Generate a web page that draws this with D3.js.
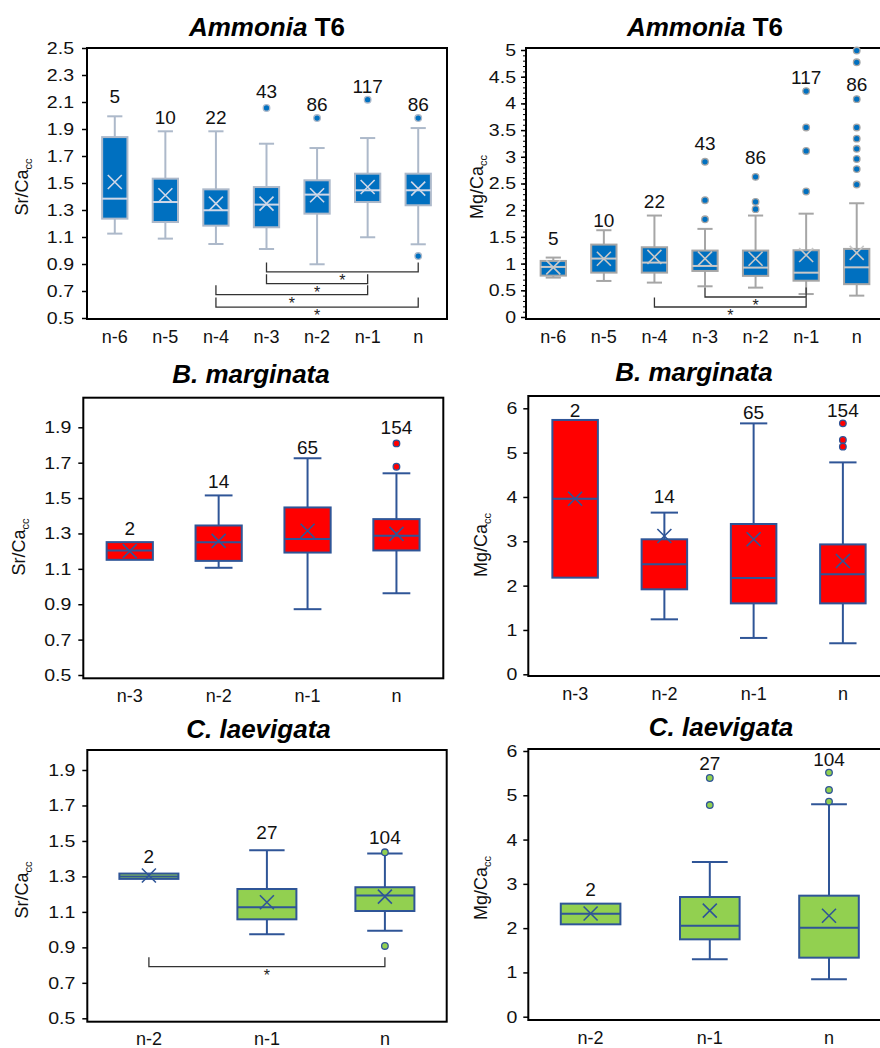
<!DOCTYPE html>
<html>
<head>
<meta charset="utf-8">
<script src="https://cdn.jsdelivr.net/npm/d3@7"></script>
<style>
body { margin: 0; background: #fff; }
text { font-family: "Liberation Sans", Arial, sans-serif; }
</style>
</head>
<body>
<script>
// categories (chamber positions)
var ammCats = ["n-6", "n-5", "n-4", "n-3", "n-2", "n-1", "n"];
var margCats = ["n-3", "n-2", "n-1", "n"];
var laevCats = ["n-2", "n-1", "n"];

// sample counts
var ammN = [5, 10, 22, 43, 86, 117, 86];
var margN = [2, 14, 65, 154];
var laevN = [2, 27, 104];

// box stats per category: [whisker low, q1, median, q3, whisker high, mean]
var ammSr = [
  [1.125, 1.236, 1.384, 1.84, 1.994, 1.507],
  [1.088, 1.211, 1.359, 1.532, 1.883, 1.409],
  [1.048, 1.184, 1.298, 1.453, 1.883, 1.347],
  [1.011, 1.172, 1.34, 1.47, 1.791, 1.347],
  [0.898, 1.273, 1.414, 1.52, 1.759, 1.409],
  [1.098, 1.359, 1.446, 1.569, 1.833, 1.47],
  [1.046, 1.335, 1.446, 1.569, 1.907, 1.458]
];
var ammSrOut = [[], [], [], [2.056], [1.981], [2.117], [1.981, 0.959]];

var ammMg = [
  [0.738, 0.775, 0.9375, 1.05, 1.113, 0.93],
  [0.675, 0.831, 1.094, 1.356, 1.625, 1.09],
  [0.644, 0.831, 1.019, 1.306, 1.9, 1.125],
  [0.575, 0.8625, 0.956, 1.244, 1.65, 1.094],
  [0.55, 0.77, 0.925, 1.244, 1.9, 1.09],
  [0.43, 0.68, 0.83, 1.25, 1.935, 1.16],
  [0.4, 0.615, 0.93, 1.275, 2.13, 1.2]
];
var ammMgOut = [[], [], [], [2.906, 2.1875, 1.83], [2.625, 2.156, 2.02],
  [4.23, 3.55, 3.11, 2.35], [4.99, 4.77, 4.08, 3.55, 3.34, 3.15, 2.96, 2.77, 2.48]];

var margSr = [
  [1.151, 1.151, 1.204, 1.251, 1.251, 1.2],
  [1.106, 1.145, 1.251, 1.345, 1.515, 1.258],
  [0.872, 1.192, 1.268, 1.447, 1.725, 1.315],
  [0.962, 1.204, 1.287, 1.381, 1.64, 1.298]
];
var margSrOut = [[], [], [], [1.809, 1.677]];

var margMg = [
  [2.18, 2.18, 3.962, 5.737, 5.737, 3.96],
  [1.24, 1.917, 2.48, 3.045, 3.647, 3.12],
  [0.82, 1.6, 2.17, 3.39, 5.66, 3.045],
  [0.7, 1.6, 2.256, 2.93, 4.78, 2.556]
];
var margMgOut = [[], [], [], [5.66, 5.286, 5.135]];

var laevSr = [
  [1.286, 1.286, 1.299, 1.316, 1.316, 1.305],
  [0.974, 1.058, 1.126, 1.229, 1.447, 1.154],
  [0.994, 1.105, 1.192, 1.239, 1.429, 1.186]
];
var laevSrOut = [[], [], [1.436, 0.908]];

var laevMg = [
  [2.086, 2.086, 2.327, 2.553, 2.553, 2.33],
  [1.295, 1.747, 2.056, 2.703, 3.494, 2.395],
  [0.843, 1.333, 2.01, 2.733, 4.797, 2.28]
];
var laevMgOut = [[], [5.39, 4.78], [5.512, 5.12, 4.857]];

// where the count labels sit (data units, baseline)
var ammSrNAt = [2.09, 1.937, 1.937, 2.13, 2.036, 2.164, 2.036];
var ammMgNAt = [1.356, 1.694, 2.044, 3.119, 2.856, 4.356, 4.225];
var margSrNAt = [1.29, 1.558, 1.749, 1.862];
var margMgNAt = [5.8, 3.865, 5.767, 5.8];
var laevSrNAt = [1.378, 1.509, 1.481];
var laevMgNAt = [2.718, 5.58, 5.655];

// significance brackets: [from, to, level]
var ammSrSig = [["n-3", "n", 0.841], ["n-3", "n-1", 0.754], ["n-4", "n-1", 0.673], ["n-4", "n", 0.581]];
var ammMgSig = [["n-3", "n-1", 0.375], ["n-4", "n-1", 0.1875]];
var laevSrSig = [["n-2", "n", 0.791]];

// tick values
var srTicksAmm = [0.5, 0.7, 0.9, 1.1, 1.3, 1.5, 1.7, 1.9, 2.1, 2.3, 2.5];
var mgTicksAmm = [0, 0.5, 1, 1.5, 2, 2.5, 3, 3.5, 4, 4.5, 5];
var srTicks = [0.5, 0.7, 0.9, 1.1, 1.3, 1.5, 1.7, 1.9];
var mgTicks = [0, 1, 2, 3, 4, 5, 6];

var svg = d3.select("body")
  .append("svg")
  .attr("width", 880)
  .attr("height", 1048);

var blue = "#0070C0", red = "#FF0000", green = "#92D050", navy = "#2F5597";

var panels = [
  { title: [["Ammonia", true], [" T6", false]], tx: 267, ty: 36, ylab: "Sr", ylx: 22, yly: 187,
    frame: {l: 87, r: 447, t: 48, b: 319}, xr: [89.5, 443.5], yd: [0.5, 2.5], yr: [318, 48],
    cats: ammCats, stats: ammSr, out: ammSrOut, n: ammN, nAt: ammSrNAt, sig: ammSrSig,
    ticks: srTicksAmm, fmt: d3.format(".1f"), pad: 8, minor: null,
    fill: blue, line: "#ADB9CA", inner: "#D0D8E8", dotStroke: "#ADB9CA", bw: 0.5 },
  { title: [["Ammonia", true], [" T6", false]], tx: 705, ty: 36, ylab: "Mg", ylx: 477, yly: 187,
    frame: {l: 526, r: 884, t: 48, b: 319}, xr: [528, 882], yd: [0, 5], yr: [317, 50],
    cats: ammCats, stats: ammMg, out: ammMgOut, n: ammN, nAt: ammMgNAt, sig: ammMgSig,
    ticks: mgTicksAmm, fmt: d3.format("~g"), pad: 5, minor: d3.range(0, 5.01, 0.1),
    fill: blue, line: "#A6A6A6", inner: "#C8C8C8", dotStroke: "#A6A6A6", bw: 0.5 },
  { title: [["B. marginata", true]], tx: 251, ty: 383, ylab: "Sr", ylx: 19, yly: 547,
    frame: {l: 83.3, r: 443.3, t: 397.7, b: 678.3}, xr: [85.3, 440.9], yd: [0.5, 1.9], yr: [675, 427.3],
    cats: margCats, stats: margSr, out: margSrOut, n: margN, nAt: margSrNAt, sig: [],
    ticks: srTicks, fmt: d3.format(".1f"), pad: 7, minor: null,
    fill: red, line: navy, inner: navy, dotStroke: navy, bw: 0.52 },
  { title: [["B. marginata", true]], tx: 694, ty: 381, ylab: "Mg", ylx: 481, yly: 545,
    frame: {l: 528.3, r: 884, t: 396, b: 676}, xr: [530.5, 887.5], yd: [0, 6], yr: [674.3, 408.3],
    cats: margCats, stats: margMg, out: margMgOut, n: margN, nAt: margMgNAt, sig: [],
    ticks: mgTicks, fmt: d3.format("d"), pad: 6, minor: null,
    fill: red, line: navy, inner: navy, dotStroke: navy, bw: 0.51 },
  { title: [["C. laevigata", true]], tx: 258.5, ty: 738, ylab: "Sr", ylx: 22, yly: 890,
    frame: {l: 87.3, r: 446.7, t: 750, b: 1021.7}, xr: [89.9, 443.9], yd: [0.5, 1.9], yr: [1018.3, 770],
    cats: laevCats, stats: laevSr, out: laevSrOut, n: laevN, nAt: laevSrNAt, sig: laevSrSig,
    ticks: srTicks, fmt: d3.format(".1f"), pad: 7, minor: null,
    fill: green, line: navy, inner: navy, dotStroke: navy, bw: 0.5 },
  { title: [["C. laevigata", true]], tx: 721, ty: 736, ylab: "Mg", ylx: 481, yly: 888,
    frame: {l: 528.3, r: 884, t: 749, b: 1020}, xr: [531, 888.6], yd: [0, 6], yr: [1016.7, 751],
    cats: laevCats, stats: laevMg, out: laevMgOut, n: laevN, nAt: laevMgNAt, sig: [],
    ticks: mgTicks, fmt: d3.format("d"), pad: 6, minor: null,
    fill: green, line: navy, inner: navy, dotStroke: navy, bw: 0.5 }
];

panels.forEach(drawPanel);

function drawPanel(p) {
  var g = svg.append("g");
  var x = d3.scaleBand().domain(p.cats).range(p.xr);
  var y = d3.scaleLinear().domain(p.yd).range(p.yr);
  var cx = function(c) { return x(c) + x.bandwidth() / 2; };
  var bw = x.bandwidth() * p.bw;
  var cap = bw * 0.3;

  // title
  var t = g.append("text")
    .attr("x", p.tx).attr("y", p.ty)
    .attr("text-anchor", "middle")
    .attr("font-size", 26).attr("font-weight", "bold");
  p.title.forEach(function(s) {
    t.append("tspan").text(s[0]).attr("font-style", s[1] ? "italic" : "normal");
  });

  // y label
  var yl = g.append("text")
    .attr("transform", "translate(" + p.ylx + "," + p.yly + ") rotate(-90)")
    .attr("text-anchor", "middle")
    .attr("dy", "0.35em")
    .attr("font-size", 18)
    .attr("fill", "#111");
  yl.append("tspan").text(p.ylab + "/Ca");
  yl.append("tspan").text("cc").attr("font-size", 11).attr("dy", "0.3em");

  // y axis
  var ay = g.append("g")
    .attr("transform", "translate(" + p.frame.l + ",0)")
    .attr("font-family", "Liberation Sans, Arial, sans-serif")
    .call(d3.axisLeft(y).tickValues(p.ticks).tickFormat(p.fmt).tickSize(5).tickPadding(p.pad));
  ay.select(".domain").remove();
  ay.selectAll("line").attr("stroke", "#000").attr("stroke-width", 1.5);
  // the source labels run a bit wide, so stretch them sideways
  ay.selectAll("text")
    .attr("font-size", 17).attr("fill", "#111")
    .each(function() {
      var tx = d3.select(this);
      var x0 = +tx.attr("x");
      tx.attr("x", 0).attr("transform", "translate(" + x0 + ",0) scale(1.15,1)");
    });

  if (p.minor) {
    var am = g.append("g")
      .attr("transform", "translate(" + p.frame.l + ",0)")
      .call(d3.axisLeft(y).tickValues(p.minor).tickFormat("").tickSize(3));
    am.select(".domain").remove();
    am.selectAll("line").attr("stroke", "#000").attr("stroke-width", 1);
  }

  // x axis
  var ax = g.append("g")
    .attr("transform", "translate(0," + p.frame.b + ")")
    .attr("font-family", "Liberation Sans, Arial, sans-serif")
    .call(d3.axisBottom(x).tickSize(0).tickPadding(11));
  ax.select(".domain").remove();
  ax.selectAll("text").attr("font-size", 18).attr("fill", "#111");

  // frame
  g.append("rect")
    .attr("x", p.frame.l).attr("y", p.frame.t)
    .attr("width", p.frame.r - p.frame.l)
    .attr("height", p.frame.b - p.frame.t)
    .attr("fill", "none")
    .attr("stroke", "#000")
    .attr("stroke-width", 2);

  // boxes
  p.cats.forEach(function(c, i) {
    var s = p.stats[i];
    var xc = cx(c);
    var bg = g.append("g");
    // whiskers
    if (s[4] > s[3]) {
      bg.append("line").attr("x1", xc).attr("x2", xc).attr("y1", y(s[3])).attr("y2", y(s[4]));
      bg.append("line").attr("x1", xc - cap).attr("x2", xc + cap).attr("y1", y(s[4])).attr("y2", y(s[4]));
    }
    if (s[0] < s[1]) {
      bg.append("line").attr("x1", xc).attr("x2", xc).attr("y1", y(s[1])).attr("y2", y(s[0]));
      bg.append("line").attr("x1", xc - cap).attr("x2", xc + cap).attr("y1", y(s[0])).attr("y2", y(s[0]));
    }
    bg.selectAll("line").attr("stroke", p.line).attr("stroke-width", 2);

    bg.append("rect")
      .attr("x", xc - bw / 2).attr("width", bw)
      .attr("y", y(s[3])).attr("height", y(s[1]) - y(s[3]))
      .attr("fill", p.fill)
      .attr("stroke", p.line).attr("stroke-width", 2);

    bg.append("line")
      .attr("x1", xc - bw / 2).attr("x2", xc + bw / 2)
      .attr("y1", y(s[2])).attr("y2", y(s[2]))
      .attr("stroke", p.inner).attr("stroke-width", 2);

    var m = 7, ym = y(s[5]);
    bg.append("path")
      .attr("d", "M" + (xc - m) + "," + (ym - m) + "L" + (xc + m) + "," + (ym + m) +
                 "M" + (xc - m) + "," + (ym + m) + "L" + (xc + m) + "," + (ym - m))
      .attr("stroke", p.inner).attr("stroke-width", 1.6).attr("fill", "none");

    bg.selectAll("circle.out")
      .data(p.out[i])
      .enter().append("circle")
      .attr("class", "out")
      .attr("cx", xc)
      .attr("cy", function(d) { return y(d); })
      .attr("r", 3.3)
      .attr("fill", p.fill)
      .attr("stroke", p.dotStroke)
      .attr("stroke-width", 1.3);

    g.append("text")
      .attr("x", xc).attr("y", y(p.nAt[i]))
      .attr("text-anchor", "middle")
      .attr("font-size", 19)
      .attr("fill", "#111")
      .text(p.n[i]);
  });

  // significance brackets
  p.sig.forEach(function(b) {
    var x1 = cx(b[0]), x2 = cx(b[1]), yy = y(b[2]);
    g.append("path")
      .attr("d", "M" + x1 + "," + (yy - 9.5) + "V" + yy + "H" + x2 + "V" + (yy - 9.5))
      .attr("fill", "none")
      .attr("stroke", "#333")
      .attr("stroke-width", 1.3);
    g.append("text")
      .attr("x", (x1 + x2) / 2).attr("y", yy + 14)
      .attr("text-anchor", "middle")
      .attr("font-size", 16)
      .attr("fill", "#222")
      .text("*");
  });
}
</script>
</body>
</html>
